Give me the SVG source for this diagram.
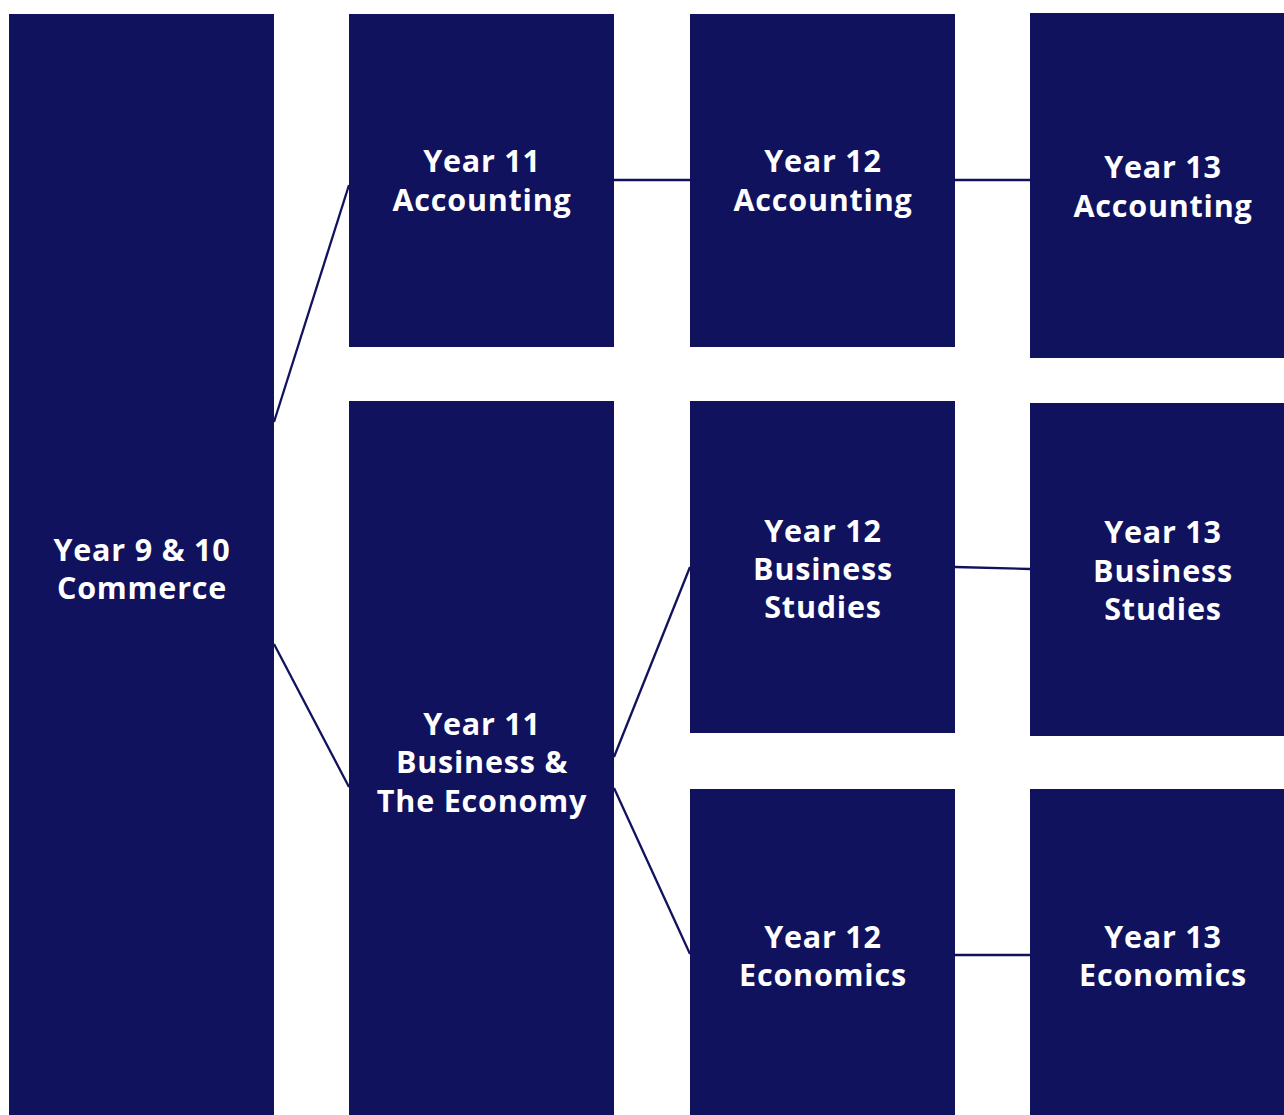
<svg xmlns="http://www.w3.org/2000/svg" width="1284" height="1115" viewBox="0 0 1284 1115">
<style>
.box{fill:#11125d}
.t{font-family:"Open Sans","Noto Sans","Liberation Sans",sans-serif;font-weight:700;font-size:30.5px;letter-spacing:0.8px;fill:#ffffff;text-anchor:middle}
.c{stroke:#11125d;stroke-width:2.3;fill:none}
</style>
<rect width="1284" height="1115" fill="#ffffff"/>
<g id="connectors">
<line class="c" x1="274" y1="422" x2="349" y2="185"/>
<line class="c" x1="274" y1="644" x2="349" y2="787"/>
<line class="c" x1="614" y1="180" x2="690" y2="180"/>
<line class="c" x1="955" y1="180" x2="1030" y2="180"/>
<line class="c" x1="614" y1="757" x2="690" y2="567"/>
<line class="c" x1="614" y1="788" x2="690" y2="954"/>
<line class="c" x1="955" y1="567" x2="1030" y2="569"/>
<line class="c" x1="955" y1="955" x2="1030" y2="955"/>
</g>
<g id="y910">
<rect class="box" x="9" y="14" width="265" height="1101"/>
<text class="t"><tspan x="142" y="561">Year 9 &amp; 10</tspan><tspan x="142" y="599">Commerce</tspan></text>
</g>
<g id="y11acc">
<rect class="box" x="349" y="14" width="265" height="333"/>
<text class="t"><tspan x="482" y="172">Year 11</tspan><tspan x="482" y="211">Accounting</tspan></text>
</g>
<g id="y11be">
<rect class="box" x="349" y="401" width="265" height="714"/>
<text class="t"><tspan x="482" y="735">Year 11</tspan><tspan x="482" y="773">Business &amp;</tspan><tspan x="482" y="812">The Economy</tspan></text>
</g>
<g id="y12acc">
<rect class="box" x="690" y="14" width="265" height="333"/>
<text class="t"><tspan x="823" y="172">Year 12</tspan><tspan x="823" y="211">Accounting</tspan></text>
</g>
<g id="y12bs">
<rect class="box" x="690" y="401" width="265" height="332"/>
<text class="t"><tspan x="823" y="542">Year 12</tspan><tspan x="823" y="580">Business</tspan><tspan x="823" y="618">Studies</tspan></text>
</g>
<g id="y12econ">
<rect class="box" x="690" y="789" width="265" height="326"/>
<text class="t"><tspan x="823" y="948">Year 12</tspan><tspan x="823" y="986">Economics</tspan></text>
</g>
<g id="y13acc">
<rect class="box" x="1030" y="13" width="254" height="345"/>
<text class="t"><tspan x="1163" y="178">Year 13</tspan><tspan x="1163" y="217">Accounting</tspan></text>
</g>
<g id="y13bs">
<rect class="box" x="1030" y="403" width="254" height="333"/>
<text class="t"><tspan x="1163" y="543">Year 13</tspan><tspan x="1163" y="582">Business</tspan><tspan x="1163" y="620">Studies</tspan></text>
</g>
<g id="y13econ">
<rect class="box" x="1030" y="789" width="254" height="326"/>
<text class="t"><tspan x="1163" y="948">Year 13</tspan><tspan x="1163" y="986">Economics</tspan></text>
</g>
</svg>
